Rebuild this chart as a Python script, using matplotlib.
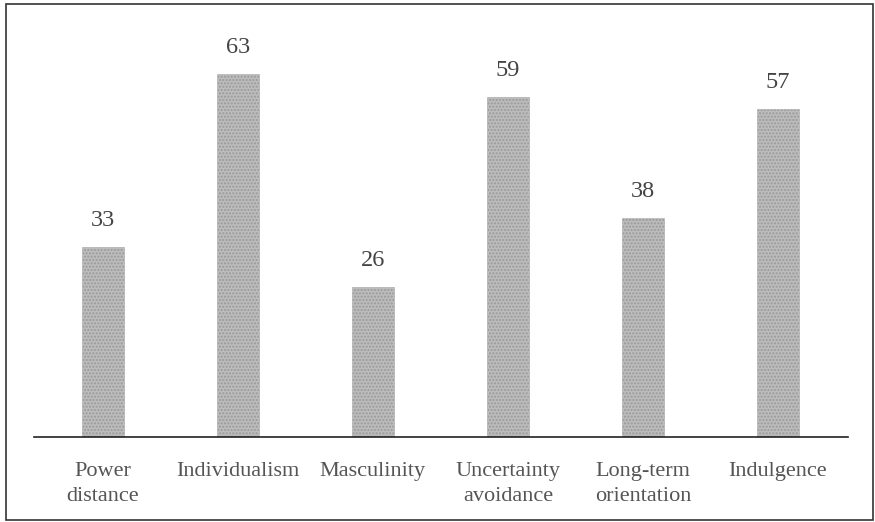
import matplotlib
matplotlib.use("Agg")
import matplotlib.pyplot as plt
from matplotlib.patches import Rectangle

# Hofstede dimension scores
categories = ["Power\ndistance", "Individualism", "Masculinity",
              "Uncertainty\navoidance", "Long-term\norientation", "Indulgence"]
scores = [33, 63, 26, 59, 38, 57]

plt.rcParams['font.family'] = ['Liberation Serif', 'DejaVu Serif']

fig = plt.figure(figsize=(8.75, 5.22), dpi=100)
ax = fig.add_axes([34/875, 85/522, 814/875, 403/522])

x = list(range(len(scores)))
bars = ax.bar(x, scores, width=0.31, color='#bcbcbc', edgecolor='#a8a8a8',
              linewidth=0.4, hatch='.....')
for b in bars:
    b._hatch_color = (0.6, 0.6, 0.6, 1.0)

for xi, v in zip(x, scores):
    ax.text(xi, v + 2.8, str(v), ha='center', va='bottom', fontsize=17.5,
            color='#444444')

ax.set_xlim(-0.51, 5.52)
ax.set_ylim(0, 70)
ax.set_xticks(x)
ax.set_xticklabels(categories, fontsize=16, color='#555555', linespacing=1.4)
ax.tick_params(axis='x', length=0, pad=18)
ax.set_yticks([])
for s in ['top', 'right', 'left']:
    ax.spines[s].set_visible(False)
ax.spines['bottom'].set_color('#222222')
ax.spines['bottom'].set_linewidth(1.2)

# outer frame
fig.patches.append(Rectangle((6/875, 2/522), 867/875, 516/522,
                             transform=fig.transFigure, fill=False,
                             edgecolor='#333333', linewidth=1.2))

fig.savefig("out.png", dpi=100)
